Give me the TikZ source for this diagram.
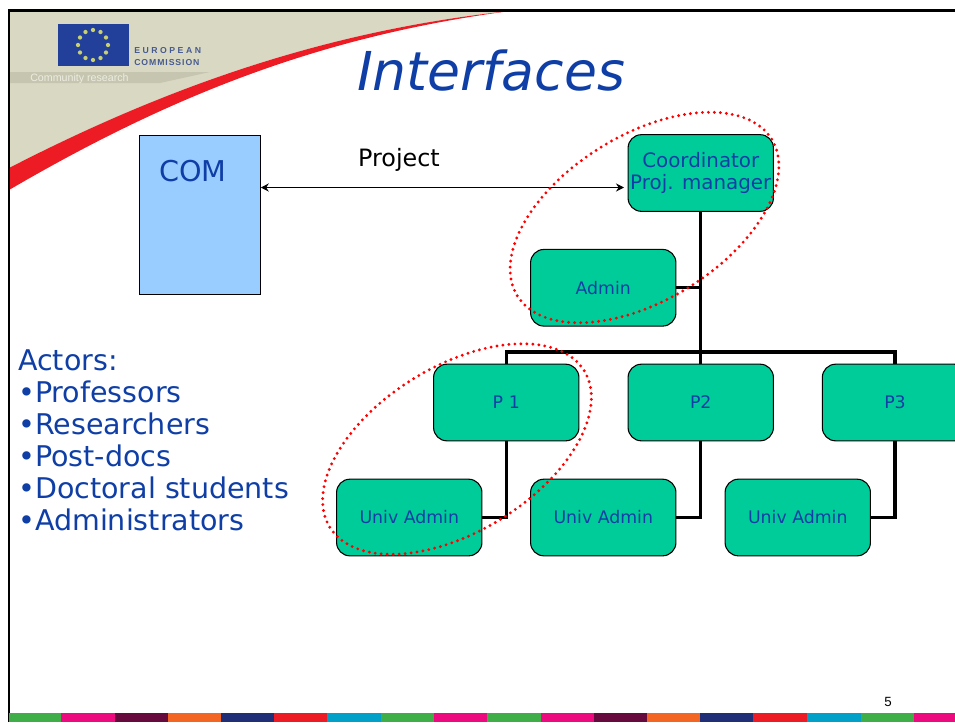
\documentclass[tikz,border=0pt]{standalone}
\usepackage{fontspec}
\setmainfont{DejaVu Sans}
\newfontfamily\logofont{Liberation Sans}
\usetikzlibrary{shapes.geometric, arrows.meta}
\definecolor{boxgreen}{HTML}{00CC99}
\definecolor{combox}{HTML}{99CCFF}
\definecolor{inkblue}{HTML}{0F3FA6}
\definecolor{beige}{HTML}{D9D9C3}
\definecolor{beigedark}{HTML}{C6C6B0}
\definecolor{swoosh}{HTML}{ED1C24}
\definecolor{flagblue}{HTML}{22409A}
\definecolor{stargold}{HTML}{C8D070}
\definecolor{stripgreen}{HTML}{3FAE49}
\definecolor{strippink}{HTML}{EC0A7E}
\definecolor{strippurple}{HTML}{660A3E}
\definecolor{striporange}{HTML}{F36523}
\definecolor{stripnavy}{HTML}{1F2E76}
\definecolor{stripred}{HTML}{ED1C24}
\definecolor{stripcyan}{HTML}{00A0C8}
\tikzset{
  orgbox/.style={draw=black, line width=0.8pt, fill=boxgreen, rounded corners=10pt, minimum width=109pt, minimum height=57.5pt, inner sep=0pt, text=inkblue, align=center, font=\fontsize{13}{16.5}\selectfont},
  orgline/.style={draw=black, line width=2.3pt},
  redring/.style={shape=ellipse, draw=red, line width=2.4pt, line cap=round, dash pattern=on 0pt off 4.5pt, minimum width=224pt, minimum height=124pt, inner sep=0pt, rotate=31.6},
  logotext/.style={anchor=west, inner sep=0pt, text=flagblue!60!gray, font=\logofont\bfseries\fontsize{6.5}{8}\selectfont}
}
\begin{document}
\begin{tikzpicture}[x=0.75pt, y=-0.75pt, >={Stealth[length=6pt, width=6pt]}]
\useasboundingbox (0,0) rectangle (955,722);
\fill[white] (0,0) rectangle (955,722);
% header
\fill[beige] (9,11) -- (510,11) .. controls (330,30) and (170,85) .. (9,168) -- cycle;
\fill[beigedark] (9,72) -- (210,72) -- (160,83) -- (9,83) -- cycle;
\fill[swoosh] (9,168) .. controls (170,85) and (330,30) .. (510,11) .. controls (330,35) and (180,90) .. (9,190) -- cycle;
\fill[flagblue] (58,24) rectangle (128.5,66);
\coordinate (flagmid) at (93,45);
\foreach \ang in {0,30,...,330}
  \fill[stargold] (flagmid) ++(\ang:15) circle (1.6pt);
\node[logotext] (eutop) at (134,51) {E\hspace{1.9pt}U\hspace{1.9pt}R\hspace{1.9pt}O\hspace{1.9pt}P\hspace{1.9pt}E\hspace{1.9pt}A\hspace{1.9pt}N};
\node[logotext] (eubottom) at (134,63) {C\hspace{.7pt}O\hspace{.7pt}M\hspace{.7pt}M\hspace{.7pt}I\hspace{.7pt}S\hspace{.7pt}S\hspace{.7pt}I\hspace{.7pt}O\hspace{.7pt}N};
\node[anchor=west, inner sep=0pt, text=beige!50!white, font=\logofont\fontsize{8}{10}\selectfont] (research) at (30,78.5) {Community research};
% frame and colour strip
\draw[line width=2.2pt] (9,722) -- (9,10.5) -- (955,10.5);
\foreach \segx/\segend/\segcol in {9/61/stripgreen, 61/114.5/strippink, 114.5/167.5/strippurple, 167.5/220.5/striporange, 220.5/273.5/stripnavy, 273.5/327/stripred, 327/381/stripcyan, 381/434/stripgreen, 434/487/strippink, 487/541/stripgreen, 541/594/strippink, 594/647/strippurple, 647/700/striporange, 700/753/stripnavy, 753/807/stripred, 807/861/stripcyan, 861/914/stripgreen, 914/955/strippink}
  \fill[\segcol] (\segx,713) rectangle (\segend,722);
\node[inner sep=0pt, font=\logofont\fontsize{10}{12}\selectfont] (pagenum) at (888,702) {5};
\node[inner sep=0pt, text=inkblue, font=\itshape\fontsize{40.2}{44}\selectfont] (title) at (491,71) {Interfaces};
% left side
\node[draw=black, fill=combox, minimum width=90.75pt, minimum height=119.25pt, inner sep=0pt] (com) at (200,214.5) {};
\node[inner sep=0pt, text=inkblue, font=\fontsize{21.5}{24}\selectfont] (comlabel) at (193,171) {COM};
\node[inner sep=0pt, font=\fontsize{17.9}{20}\selectfont] (project) at (399,160) {Project};
\node[anchor=north west, inner sep=0pt, align=left, text=inkblue, font=\fontsize{21.4}{24}\selectfont] (actors) at (18,349) {Actors:\\•Professors\\•Researchers\\•Post-docs\\•Doctoral students\\•Administrators};
% org chart
\node[orgbox, font=\fontsize{14.9}{16.5}\selectfont] (coord) at (700.75,173) {Coordinator\\Proj. manager};
\node[orgbox] (admin) at (603.25,287.75) {Admin};
\node[orgbox] (pone) at (506.25,402.5) {P\,\,1};
\node[orgbox] (ptwo) at (700.75,402.5) {P2};
\node[orgbox] (pthree) at (895,402.5) {P3};
\node[orgbox] (uadmina) at (409.25,517.5) {Univ Admin};
\node[orgbox] (uadminb) at (603.25,517.5) {Univ Admin};
\node[orgbox] (uadminc) at (797.75,517.5) {Univ Admin};
\coordinate (bus) at (700.75,352);
\coordinate (projend) at (624,187.5);
\draw[orgline] (coord.south) -- (ptwo.north);
\draw[orgline] (admin.east) -- (admin.east -| coord.south);
\draw[orgline] (pone.north) |- (bus) -| (pthree.north);
\draw[orgline] (uadmina.east) -| (pone.south);
\draw[orgline] (uadminb.east) -| (ptwo.south);
\draw[orgline] (uadminc.east) -| (pthree.south);
\draw[<->, line width=0.8pt] (projend -| com.east) -- (projend);
% rings
\node[redring] (ringtop) at (644.5,217.5) {};
\node[redring] (ringlow) at (457,449) {};
\end{tikzpicture}
\end{document}
